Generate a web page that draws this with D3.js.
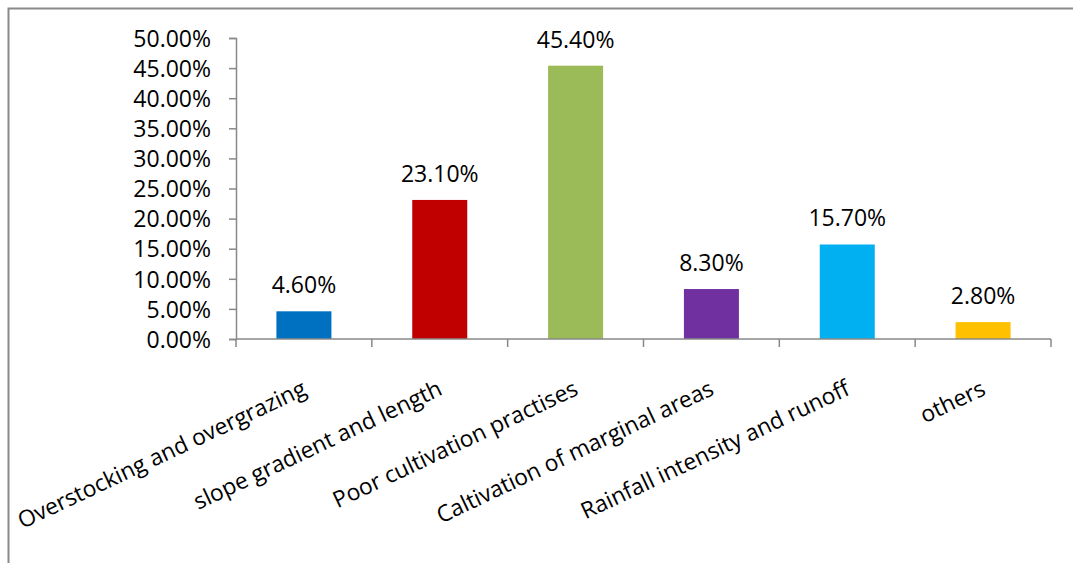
<!DOCTYPE html>
<html><head><meta charset="utf-8">
<script src="https://cdn.jsdelivr.net/npm/d3@7"></script>
<style>html,body{margin:0;padding:0;background:#fff;}svg{display:block;}</style>
</head><body>
<svg id="c" width="1073" height="563"></svg>
<script>
const categories = ["Overstocking and overgrazing","slope gradient and length","Poor cultivation practises","Caltivation of marginal areas","Rainfall intensity and runoff","others"];
const values = [4.6, 23.1, 45.4, 8.3, 15.7, 2.8];
const valueLabels = ["4.60%","23.10%","45.40%","8.30%","15.70%","2.80%"];
const colors = ["#0070C0","#C00000","#9BBB59","#7030A0","#00B0F0","#FFC000"];
const yTicks = [0,5,10,15,20,25,30,35,40,45,50];

const svg = d3.select("#c");
const font = "'Open Sans', sans-serif";
const axisColor = "#898989";

// chart border
svg.append("rect").attr("x",8.5).attr("y",8.5).attr("width",1100).attr("height",600)
  .attr("fill","none").attr("stroke","#8a8a8a").attr("stroke-width",2);

const x = d3.scaleBand().domain(categories).range([236,1051]).paddingInner(0.595).paddingOuter(0.2975);
const y = d3.scaleLinear().domain([0,50]).range([339,38]);

// bars
svg.selectAll("rect.bar").data(values).enter().append("rect").attr("class","bar")
  .attr("x",(d,i)=>x(categories[i])).attr("width",x.bandwidth())
  .attr("y",d=>y(d)).attr("height",d=>y(0)-y(d)).attr("fill",(d,i)=>colors[i]);

// y axis
const yAxis = d3.axisLeft(y).tickValues(yTicks).tickSize(7).tickPadding(18).tickFormat(d=>d.toFixed(2)+"%");
const gy = svg.append("g").attr("transform","translate(236,0)").call(yAxis);
gy.select(".domain").attr("stroke",axisColor).attr("stroke-width",1.5).attr("d","M-7,38.5H0.5V339.5H-7");
gy.selectAll(".tick line").attr("stroke",axisColor).attr("stroke-width",1.5);
gy.selectAll(".tick text").attr("font-family",font).attr("font-size","23px").attr("fill","#000").attr("x",-25).attr("dy","0.36em");

// x axis
const step = x.step();
const bounds = d3.range(categories.length+1).map(i=>236+i*step);
svg.append("line").attr("x1",236).attr("x2",1051).attr("y1",339).attr("y2",339).attr("stroke",axisColor).attr("stroke-width",1.5);
svg.selectAll("line.xt").data(bounds).enter().append("line").attr("class","xt")
  .attr("x1",d=>d).attr("x2",d=>d).attr("y1",339).attr("y2",347).attr("stroke",axisColor).attr("stroke-width",1.5);

// category labels
svg.selectAll("text.cat").data(categories).enter().append("text").attr("class","cat")
  .attr("transform",d=>`translate(${x(d)+x.bandwidth()/2+4},394) rotate(-25.3)`)
  .attr("text-anchor","end").attr("font-family",font).attr("font-size","22.8px").attr("fill","#000")
  .text(d=>d);

// value labels
svg.selectAll("text.val").data(values).enter().append("text").attr("class","val")
  .attr("x",(d,i)=>x(categories[i])+x.bandwidth()/2).attr("y",d=>y(d)-18)
  .attr("text-anchor","middle").attr("font-family",font).attr("font-size","23px").attr("fill","#000")
  .text((d,i)=>valueLabels[i]);
</script>
</body></html>
